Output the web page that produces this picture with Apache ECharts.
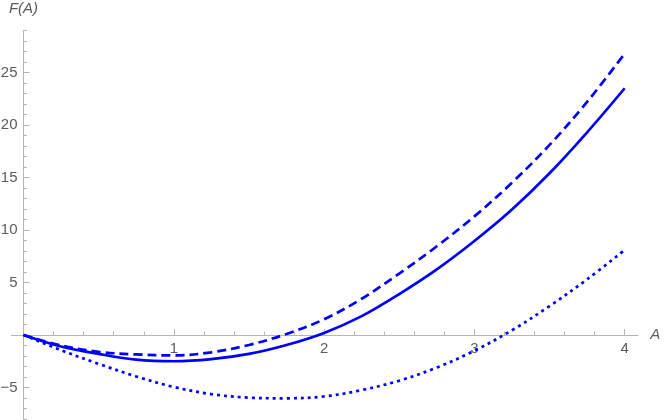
<!DOCTYPE html>
<html>
<head>
<meta charset="utf-8">
<script src="https://cdn.jsdelivr.net/npm/echarts@6/dist/echarts.min.js"></script>
<style>
  html, body { margin: 0; padding: 0; background: #fff; }
  #main { width: 664px; height: 420px; }
</style>
</head>
<body>
<div id="main"></div>
<script>
// A values
var aVals = [0, 0.25, 0.5, 0.75, 1, 1.25, 1.5, 1.75, 2, 2.25, 2.5, 2.75, 3, 3.25, 3.5, 3.75, 4];
// F(A)
var fSolid  = [0, -1.1, -1.8, -2.35, -2.5, -2.3, -1.8, -0.95, 0.2, 1.8, 3.9, 6.25, 8.95, 11.95, 15.4, 19.3, 23.5];
var fDashed = [0, -1.0, -1.6, -1.85, -1.95, -1.65, -0.95, 0.1, 1.5, 3.45, 5.85, 8.45, 11.3, 14.5, 18.1, 22.2, 26.8];
var fDotted = [0, -1.45, -2.75, -3.95, -4.95, -5.63, -5.97, -6.03, -5.85, -5.25, -4.35, -3.1, -1.5, 0.45, 2.75, 5.3, 8.1];

// tick labels and tick positions
var xLabels = [1, 2, 3, 4];
var yLabels = [-5, 5, 10, 15, 20, 25];
var xMinor = [];
for (var i = 1; i <= 20; i++) { if (i % 5 != 0) xMinor.push(+(i * 0.2).toFixed(1)); }
var yMinor = [];
for (var j = -8; j <= 29; j++) { if (j % 5 != 0) yMinor.push(j); }

var xMin = -0.08, xMax = 4.09, yMin = -8, yMax = 29;
var gLeft = 11.5, gTop = 30.5, gW = 626.7, gH = 388.5;

// distance from the grid edges to the zero lines
var zeroFromBottom = (0 - yMin) / (yMax - yMin) * gH;
var zeroFromLeft = (0 - xMin) / (xMax - xMin) * gW;

function pairs(ys) {
  var out = [];
  for (var k = 0; k < aVals.length; k++) out.push([aVals[k], ys[k]]);
  return out;
}

var axisGray = '#b5b5b5';
var textGray = '#5c5c5c';
var fontFam = '"Liberation Sans", Arial, sans-serif';

var myChart = echarts.init(document.getElementById('main'));
var option = {
  animation: false,
  grid: { left: gLeft, top: gTop, width: gW, height: gH, containLabel: false, outerBoundsMode: 'none' },
  xAxis: [
    {
      type: 'value', position: 'bottom', min: xMin, max: xMax,
      name: 'A', nameLocation: 'end', nameGap: 12,
      nameTextStyle: { color: textGray, fontStyle: 'italic', fontSize: 15, fontFamily: fontFam },
      axisLine: { onZero: true, lineStyle: { color: axisGray, width: 1 } },
      axisTick: { inside: true, length: 6, customValues: xLabels, lineStyle: { color: axisGray } },
      // labels of an on-zero axis sit at the grid edge, so pull them back to the zero line
      axisLabel: { customValues: xLabels, margin: 6 - zeroFromBottom, color: textGray, fontSize: 15, fontFamily: fontFam },
      splitLine: { show: false }
    },
    {
      // minor ticks
      type: 'value', position: 'bottom', min: xMin, max: xMax, offset: -zeroFromBottom,
      axisLine: { show: false, onZero: false },
      axisTick: { inside: true, length: 3.5, customValues: xMinor, lineStyle: { color: axisGray } },
      axisLabel: { show: false },
      splitLine: { show: false }
    }
  ],
  yAxis: [
    {
      type: 'value', position: 'left', min: yMin, max: yMax,
      name: 'F(A)', nameLocation: 'end', nameGap: 14,
      nameTextStyle: { color: textGray, fontStyle: 'italic', fontSize: 15, fontFamily: fontFam, align: 'center' },
      axisLine: { onZero: true, lineStyle: { color: axisGray, width: 1 } },
      axisTick: { inside: true, length: 6, customValues: yLabels, lineStyle: { color: axisGray } },
      axisLabel: {
        customValues: yLabels, margin: 6 - zeroFromLeft, color: textGray, fontSize: 15, fontFamily: fontFam,
        formatter: function (v) { return String(v).replace('-', '\u2212'); }
      },
      splitLine: { show: false }
    },
    {
      type: 'value', position: 'left', min: yMin, max: yMax, offset: -zeroFromLeft,
      axisLine: { show: false, onZero: false },
      axisTick: { inside: true, length: 3.5, customValues: yMinor, lineStyle: { color: axisGray } },
      axisLabel: { show: false },
      splitLine: { show: false }
    }
  ],
  series: [
    {
      type: 'line', xAxisIndex: 0, yAxisIndex: 0, data: pairs(fSolid),
      smooth: 0.35, symbol: 'none',
      lineStyle: { color: '#0000ff', width: 2.7 }
    },
    {
      type: 'line', xAxisIndex: 0, yAxisIndex: 0, data: pairs(fDashed),
      smooth: 0.35, symbol: 'none',
      lineStyle: { color: '#0000ff', width: 2.7, type: [9, 5], cap: 'butt' }
    },
    {
      type: 'line', xAxisIndex: 0, yAxisIndex: 0, data: pairs(fDotted),
      smooth: 0.35, symbol: 'none',
      lineStyle: { color: '#0000ff', width: 2.7, type: [3, 4], cap: 'butt' }
    }
  ]
};
myChart.setOption(option);
</script>
</body>
</html>
